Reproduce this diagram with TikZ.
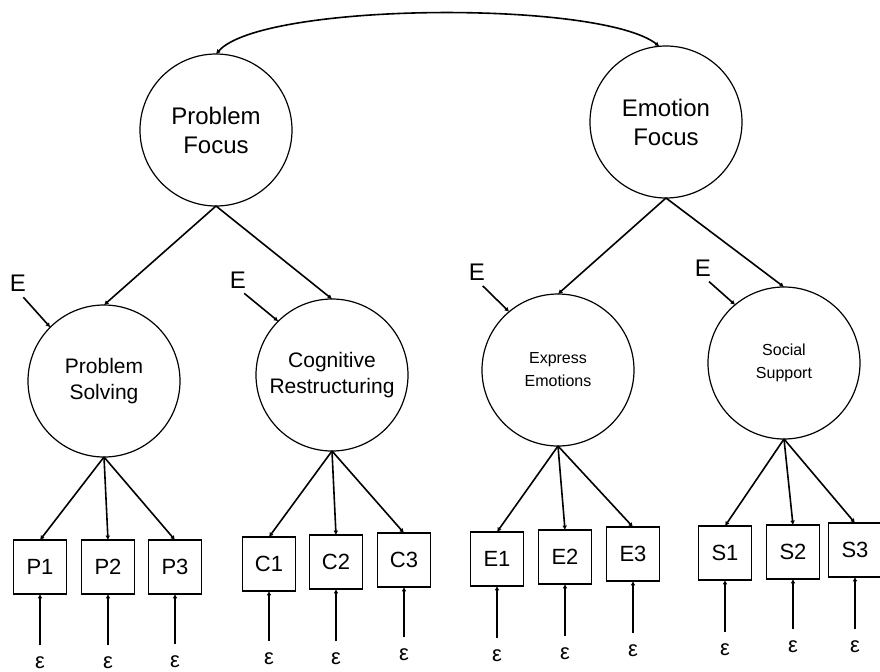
\documentclass[tikz,border=0pt]{standalone}
\usepackage{fontspec}
\setmainfont{Liberation Sans}
\usetikzlibrary{arrows.meta, positioning}

\begin{document}
\begin{tikzpicture}[
	x=0.5pt, y=-0.5pt,
	node distance=0mm,
	every node/.style = {inner sep=0pt, outer sep=0pt, align=center},
	arr/.style = {draw, line width=0.8pt, -{Latex[length=2.2pt, width=2.4pt]}},
	factor/.style = {shape=circle, draw, line width=0.6pt, minimum size=76pt, font=\fontsize{12}{14.5}\selectfont},
	latent/.style = {shape=circle, draw, line width=0.6pt, minimum size=76pt, font=\fontsize{10.5}{13}\selectfont},
	latsm/.style = {latent, font=\fontsize{8}{11.5}\selectfont},
	obs/.style = {shape=rectangle, draw, line width=0.8pt, minimum width=26.5pt, minimum height=27pt, font=\fontsize{11}{13}\selectfont},
	dist/.style = {font=\fontsize{12}{14}\selectfont},
	eps/.style = {font=\fontsize{11}{12}\selectfont, inner sep=6pt},
	]
\useasboundingbox (0,0) rectangle (880,671);
% second order factors
\node[factor] (PF) at (216,130) {Problem \\ Focus};
\node[factor] (EF) at (666,122) {Emotion \\ Focus};
% first order factors
\node[latent] (PS) at (104,381) {Problem \\ Solving};
\node[latent] (CR) at (332,375) {Cognitive \\ Restructuring};
\node[latsm] (EE) at (558,370) {Express \\ Emotions};
\node[latsm] (SS) at (784,363) {Social \\ Support};
% disturbances
\node[dist] (dPS) at (18,283) {E};
\node[dist] (dCR) at (238,280) {E};
\node[dist] (dEE) at (477,272) {E};
\node[dist] (dSS) at (703,268) {E};
% indicators
\node[obs] (P1) at (40,567) {P1};
\node[obs] (P2) at (108,567) {P2};
\node[obs] (P3) at (175,567) {P3};
\node[obs] (C1) at (269,564) {C1};
\node[obs] (C2) at (336,562) {C2};
\node[obs] (C3) at (404,560) {C3};
\node[obs] (E1) at (497,559) {E1};
\node[obs] (E2) at (565,557) {E2};
\node[obs] (E3) at (633,554) {E3};
\node[obs] (S1) at (725,553) {S1};
\node[obs] (S2) at (793,552) {S2};
\node[obs] (S3) at (855,550) {S3};
% errors, from left to right
\node[eps] (eP1) [below=25.5pt of P1] {ε};
\node[eps] (eP2) [below=25.5pt of P2] {ε};
\node[eps] (eP3) [below=25pt of P3] {ε};
\node[eps] (eC1) [below=25pt of C1] {ε};
\node[eps] (eC2) [below=26pt of C2] {ε};
\node[eps] (eC3) [below=25pt of C3] {ε};
\node[eps] (eE1) [below=26pt of E1] {ε};
\node[eps] (eE2) [below=26pt of E2] {ε};
\node[eps] (eE3) [below=26pt of E3] {ε};
\node[eps] (eS1) [below=26pt of S1] {ε};
\node[eps] (eS2) [below=25pt of S2] {ε};
\node[eps] (eS3) [below=26pt of S3] {ε};

% covariance
\draw[line width=0.8pt, {Latex[length=2.2pt, width=2.4pt]}-{Latex[length=2.2pt, width=2.4pt]}]
	(PF.north) .. controls (262,2) and (600,0) .. (EF.95);
% loadings
\draw[arr] (PF.south) -- (PS.north);
\draw[arr] (PF.south) -- (CR.north);
\draw[arr] (EF.south) -- (EE.north);
\draw[arr] (EF.south) -- (SS.north);
\foreach \f/\v in {PS/P, CR/C, EE/E, SS/S}
	\foreach \i in {1,2,3}
		\draw[arr] (\f.south) -- (\v\i.north);
% disturbance and error arrows
\draw[arr, shorten <=4pt] (dPS.south) -- (PS.135);
\draw[arr, shorten <=4pt] (dCR.south) -- (CR.135);
\draw[arr, shorten <=4pt] (dEE.south) -- (EE.130);
\draw[arr, shorten <=4pt] (dSS.south) -- (SS.130);
\foreach \v in {P,C,E,S}
	\foreach \i in {1,2,3}
		\draw[arr] (e\v\i.north) -- (\v\i.south);
\end{tikzpicture}
\end{document}
